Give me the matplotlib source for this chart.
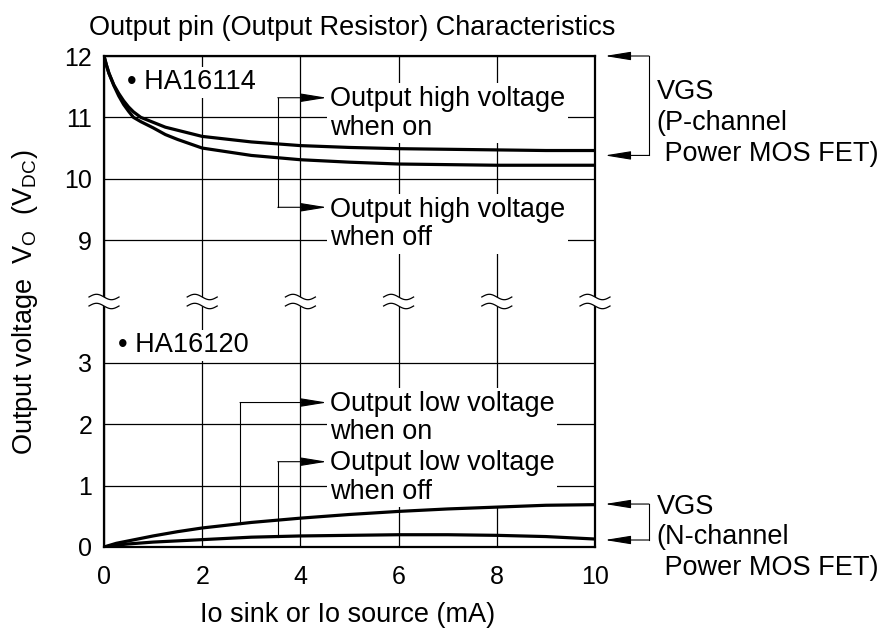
import numpy as np
import matplotlib
matplotlib.use("Agg")
import matplotlib.pyplot as plt
import matplotlib.transforms as mtransforms

plt.rcParams['font.family'] = ['Liberation Sans', 'DejaVu Sans']

# ---------------- data ----------------
title = "Output pin (Output Resistor) Characteristics"
x_label = "Io sink or Io source (mA)"
y_label = r"Output voltage  V$_\mathregular{O}$  (V$_\mathregular{DC}$)"

x_ticks = [0, 2, 4, 6, 8, 10]
y_ticks = [0, 1, 2, 3, 9, 10, 11, 12]

io_high = [0, 0.05, 0.1, 0.2, 0.3, 0.4, 0.5, 0.6, 0.75, 1, 1.25, 1.5, 2, 3, 4, 5, 6, 7, 8, 9, 10]
voh_on = [12, 11.85, 11.72, 11.53, 11.39, 11.27, 11.17, 11.09, 11.0, 10.92, 10.84, 10.79,
          10.69, 10.6, 10.54, 10.51, 10.49, 10.48, 10.47, 10.46, 10.46]
voh_off = [12, 11.85, 11.72, 11.52, 11.35, 11.21, 11.1, 11.0, 10.93, 10.83, 10.72, 10.64,
           10.5, 10.38, 10.31, 10.27, 10.24, 10.23, 10.22, 10.22, 10.22]

io_low = [0, 0.25, 0.5, 1, 1.5, 2, 3, 4, 5, 6, 7, 8, 9, 10]
vol_on = [0, 0.06, 0.1, 0.18, 0.25, 0.31, 0.4, 0.47, 0.53, 0.58, 0.62, 0.65, 0.68, 0.69]
vol_off = [0, 0.03, 0.05, 0.08, 0.1, 0.12, 0.16, 0.18, 0.19, 0.2, 0.2, 0.19, 0.17, 0.13]

label_hi_on = "Output high voltage\nwhen on"
label_hi_off = "Output high voltage\nwhen off"
label_lo_on = "Output low voltage\nwhen on"
label_lo_off = "Output low voltage\nwhen off"
label_p = "VGS\n(P-channel\n Power MOS FET)"
label_n = "VGS\n(N-channel\n Power MOS FET)"
label_dev_hi = "\u2022 HA16114"
label_dev_lo = "\u2022 HA16120"

# ---------------- broken axis mapping ----------------
BREAK_AT = 4.0      # axis position of the break
GAP = 4.0           # values 9..12 are shifted down by this


def to_axis(v):
    v = np.asarray(v, dtype=float)
    return np.where(v > 6, v - GAP, v)


FS = 19.5
TFS = 18
fig = plt.figure(figsize=(8.83, 6.28), dpi=100)
W, H = 883, 628
ax = fig.add_axes([104 / W, 1 - 547 / H, (595 - 104) / W, (547 - 56) / H])

ax.set_xlim(0, 10)
ax.set_ylim(to_axis(0), to_axis(12))
ax.set_xticks(x_ticks)
ax.set_xticklabels([str(t) for t in x_ticks])
ax.set_yticks(to_axis(y_ticks))
ax.set_yticklabels([str(t) for t in y_ticks])
ax.tick_params(axis='both', length=0, labelsize=TFS)
ax.tick_params(axis='x', pad=13)
ax.tick_params(axis='y', pad=8.5)
ax.set_axisbelow(True)
ax.grid(True, color='black', lw=0.9)
for s in ax.spines.values():
    s.set_linewidth(1.6)

# curves
lw_c = 2.3
ax.plot(io_high, to_axis(voh_on), color='black', lw=lw_c, zorder=4, solid_capstyle='butt')
ax.plot(io_high, to_axis(voh_off), color='black', lw=lw_c, zorder=4, solid_capstyle='butt')
ax.plot(io_low, to_axis(vol_on), color='black', lw=lw_c, zorder=4, solid_capstyle='butt')
ax.plot(io_low, to_axis(vol_off), color='black', lw=lw_c, zorder=4, solid_capstyle='butt')

# break symbols
for xb in x_ticks:
    tr = fig.dpi_scale_trans + mtransforms.ScaledTranslation(xb, BREAK_AT, ax.transData)
    s = np.linspace(-0.15, 0.15, 80)
    wave = -0.027 * np.sin(np.pi * s / 0.15)
    up = wave + 0.045
    lo = wave - 0.045
    ax.fill_between(s, lo, up, color='white', transform=tr, clip_on=False, zorder=5, lw=0)
    ax.plot(s, up, color='black', lw=0.9, transform=tr, clip_on=False, zorder=6)
    ax.plot(s, lo, color='black', lw=0.9, transform=tr, clip_on=False, zorder=6)

# annotations
aprops = dict(arrowstyle='-|>,head_length=0.8,head_width=0.13', lw=0.8, color='black',
              shrinkA=0, shrinkB=0, mutation_scale=20)


def arrow(x0, y0, x1, y1):
    ax.annotate('', xy=(x1, to_axis(y1)), xytext=(x0, to_axis(y0)), arrowprops=aprops,
                annotation_clip=False, zorder=7)


def vline(x, y0, y1):
    ax.plot([x, x], [to_axis(y0), to_axis(y1)], color='black', lw=0.8, zorder=6, clip_on=False)


box = dict(facecolor='white', edgecolor='none', pad=2)
LS = 1.12

# high side labels (positions = baseline of the last line)
ax.text(4.6, to_axis(10.72), label_hi_on, fontsize=FS, ha='left', va='baseline',
        linespacing=LS, bbox=box, zorder=3)
ax.text(4.6, to_axis(8.92), label_hi_off, fontsize=FS, ha='left', va='baseline',
        linespacing=LS, bbox=box, zorder=3)
vline(3.54, 11.32, 9.535)
arrow(3.54, 11.32, 4.54, 11.32)
arrow(3.54, 9.535, 4.54, 9.535)

# low side labels
ax.text(4.6, 1.76, label_lo_on, fontsize=FS, ha='left', va='baseline',
        linespacing=LS, bbox=box, zorder=3)
ax.text(4.6, 0.79, label_lo_off, fontsize=FS, ha='left', va='baseline',
        linespacing=LS, bbox=box, zorder=3)
x_on, x_off = 2.77, 3.54
vline(x_on, 2.354, float(np.interp(x_on, io_low, vol_on)))
arrow(x_on, 2.354, 4.54, 2.354)
vline(x_off, 1.39, float(np.interp(x_off, io_low, vol_off)))
arrow(x_off, 1.39, 4.54, 1.39)

# device labels
ax.text(0.47, to_axis(11.455), label_dev_hi, fontsize=FS, ha='left', va='baseline',
        bbox=box, zorder=3)
ax.text(0.29, 3.17, label_dev_lo, fontsize=FS, ha='left', va='baseline',
        bbox=box, zorder=3)

# right-side brackets
xr, xt = 11.1, 10.2
vline(xr, 12, 10.38)
arrow(xr, 12, xt, 12)
arrow(xr, 10.38, xt, 10.38)
vline(xr, 0.7, 0.114)
arrow(xr, 0.7, xt, 0.7)
arrow(xr, 0.114, xt, 0.114)
LS2 = 1.24
ax.text(11.26, to_axis(10.29), label_p, fontsize=FS, ha='left', va='baseline',
        linespacing=LS2, clip_on=False)
ax.text(11.26, -0.46, label_n, fontsize=FS, ha='left', va='baseline',
        linespacing=LS2, clip_on=False)

# titles
fig.text(352 / W, 1 - 35 / H, title, fontsize=FS, ha='center', va='baseline')
fig.text(348 / W, 1 - 622 / H, x_label, fontsize=FS, ha='center', va='baseline')
fig.text(25 / W, 1 - 302 / H, y_label, fontsize=FS, ha='center', va='center', rotation=90)

fig.savefig("out.png", dpi=100)
